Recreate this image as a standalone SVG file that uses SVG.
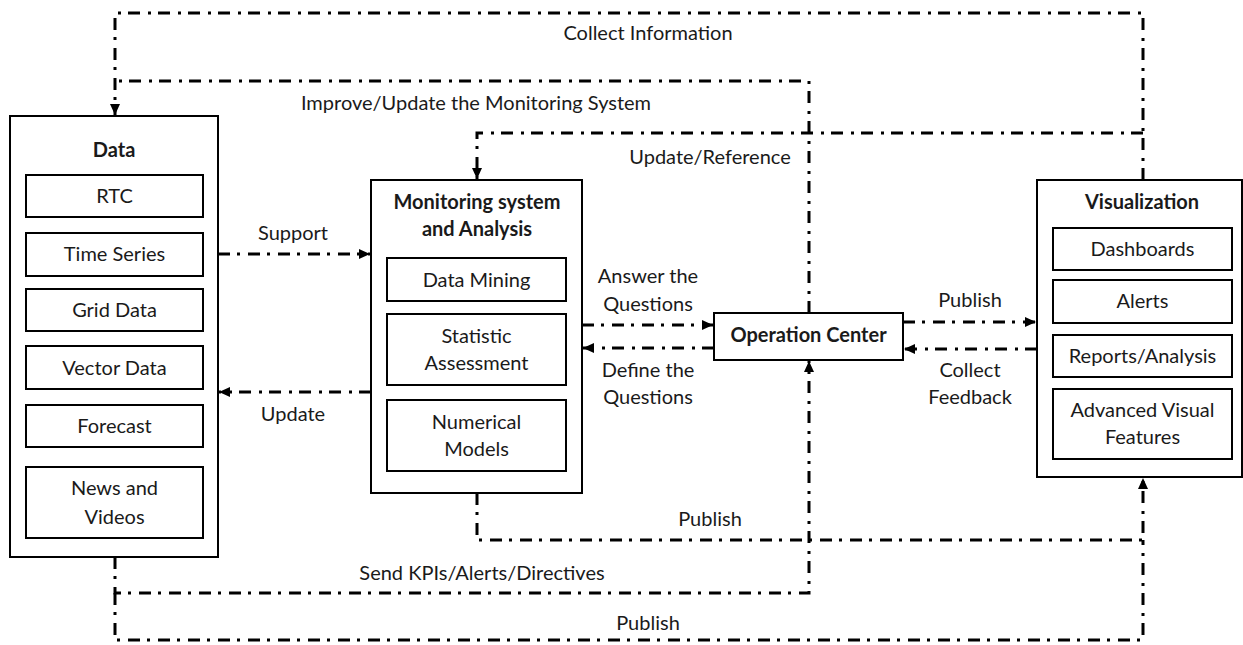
<svg xmlns="http://www.w3.org/2000/svg" width="1243" height="645" viewBox="0 0 1243 645">
<style>
.box{fill:#fff;stroke:#000;stroke-width:2}
.t{font-family:Lato,"Liberation Sans",sans-serif;font-size:20px;fill:#1a1a1a;text-anchor:middle}
.b{font-weight:bold}
.c{fill:none;stroke:#000;stroke-width:3;stroke-dasharray:12 7 3 8}
</style>
<defs>
<marker id="ah" markerUnits="userSpaceOnUse" markerWidth="12" markerHeight="10" refX="11" refY="5" orient="auto">
<path d="M0,0 L11,5 L0,10 Z" fill="#000"/>
</marker>
</defs>
<rect width="1243" height="645" fill="#fff"/>
<g id="connectors">
<path class="c" d="M1143,180 V13 H115 V115" marker-end="url(#ah)"/>
<path class="c" d="M809,313 V81 H115"/>
<path class="c" d="M1143,133 H477 V179" marker-end="url(#ah)"/>
<path class="c" d="M218,254 H370" marker-end="url(#ah)"/>
<path class="c" d="M371,392 H219" marker-end="url(#ah)"/>
<path class="c" d="M582,325 H713" marker-end="url(#ah)"/>
<path class="c" d="M714,348 H583" marker-end="url(#ah)"/>
<path class="c" d="M903,322 H1036" marker-end="url(#ah)"/>
<path class="c" d="M1037,349 H904" marker-end="url(#ah)"/>
<path class="c" d="M477,493 V540 H1143 V478" marker-end="url(#ah)"/>
<path class="c" d="M115,557 V593 H809 V361" marker-end="url(#ah)"/>
<path class="c" d="M115,593 V640 H1143 V540"/>
</g>
<g id="labels">
<text class="t" x="648" y="40">Collect Information</text>
<text class="t" x="476" y="110">Improve/Update the Monitoring System</text>
<text class="t" x="710" y="164">Update/Reference</text>
<text class="t" x="293" y="240">Support</text>
<text class="t" x="293" y="421">Update</text>
<text class="t" x="648" y="283">Answer the</text>
<text class="t" x="648" y="311">Questions</text>
<text class="t" x="648" y="377">Define the</text>
<text class="t" x="648" y="404">Questions</text>
<text class="t" x="970" y="307">Publish</text>
<text class="t" x="970" y="377">Collect</text>
<text class="t" x="970" y="404">Feedback</text>
<text class="t" x="710" y="526">Publish</text>
<text class="t" x="482" y="580">Send KPIs/Alerts/Directives</text>
<text class="t" x="648" y="630">Publish</text>
</g>
<g id="data">
<rect class="box" x="10" y="116" width="208" height="441"/>
<text class="t b" x="114" y="157">Data</text>
<rect class="box" x="26" y="175" width="177" height="42"/>
<text class="t" x="114.5" y="203">RTC</text>
<rect class="box" x="26" y="233" width="177" height="43"/>
<text class="t" x="114.5" y="261">Time Series</text>
<rect class="box" x="26" y="289" width="177" height="42"/>
<text class="t" x="114.5" y="317">Grid Data</text>
<rect class="box" x="26" y="346" width="177" height="43"/>
<text class="t" x="114.5" y="375">Vector Data</text>
<rect class="box" x="26" y="405" width="177" height="42"/>
<text class="t" x="114.5" y="433">Forecast</text>
<rect class="box" x="26" y="467" width="177" height="71"/>
<text class="t" x="114.5" y="495">News and</text>
<text class="t" x="114.5" y="524">Videos</text>
</g>
<g id="monitoring">
<rect class="box" x="371" y="180" width="211" height="313"/>
<text class="t b" x="477" y="209">Monitoring system</text>
<text class="t b" x="477" y="236">and Analysis</text>
<rect class="box" x="387" y="258" width="179" height="43"/>
<text class="t" x="476.5" y="287">Data Mining</text>
<rect class="box" x="387" y="314" width="179" height="71"/>
<text class="t" x="476.5" y="343">Statistic</text>
<text class="t" x="476.5" y="370">Assessment</text>
<rect class="box" x="387" y="400" width="179" height="71"/>
<text class="t" x="476.5" y="429">Numerical</text>
<text class="t" x="476.5" y="456">Models</text>
</g>
<g id="operation-center">
<rect class="box" x="714" y="313" width="189" height="47"/>
<text class="t b" x="808.5" y="342">Operation Center</text>
</g>
<g id="visualization">
<rect class="box" x="1037" y="180" width="205" height="297"/>
<text class="t b" x="1142" y="209">Visualization</text>
<rect class="box" x="1053" y="228" width="179" height="42"/>
<text class="t" x="1142.5" y="256">Dashboards</text>
<rect class="box" x="1053" y="280" width="179" height="43"/>
<text class="t" x="1142.5" y="308">Alerts</text>
<rect class="box" x="1053" y="335" width="179" height="42"/>
<text class="t" x="1142.5" y="363">Reports/Analysis</text>
<rect class="box" x="1053" y="389" width="179" height="70"/>
<text class="t" x="1142.5" y="417">Advanced Visual</text>
<text class="t" x="1142.5" y="444">Features</text>
</g>
</svg>
